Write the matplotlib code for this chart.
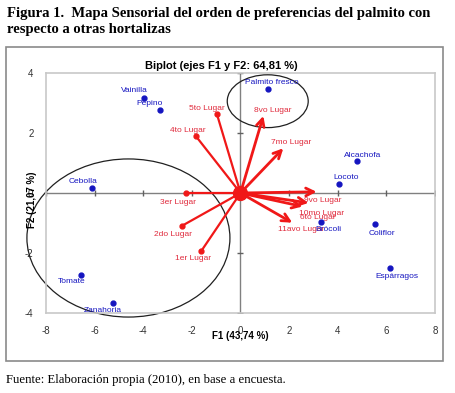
import matplotlib.pyplot as plt
from matplotlib.patches import Ellipse, Rectangle

plt.rcParams['axes.unicode_minus'] = False

# observations (blue points)
obs_names = ['Vainilla', 'Pepino', 'Cebolla', 'Palmito fresco', 'Alcachofa', 'Locoto',
             'Brócoli', 'Coliflor', 'Espárragos', 'Tomate', 'Zanahoria']
obs_x = [-3.97, -3.33, -6.12, 1.14, 4.81, 4.07, 3.31, 5.52, 6.15, -6.54, -5.23]
obs_y = [3.18, 2.78, 0.16, 3.47, 1.06, 0.29, -0.96, -1.02, -2.49, -2.73, -3.66]

# variables (red vectors)
var_names = ['1er Lugar', '2do Lugar', '3er Lugar', '4to Lugar', '5to Lugar', '6to Lugar',
             '7mo Lugar', '8vo Lugar', '9vo Lugar', '10mo Lugar', '11avo Lugar']
var_x = [-1.61, -2.42, -2.24, -1.84, -0.97, 2.55, 1.76, 0.94, 3.13, 2.8, 2.13]
var_y = [-1.93, -1.10, 0.0, 1.90, 2.63, -0.45, 1.49, 2.57, 0.04, -0.33, -0.99]
var_arrow = [False, False, False, False, False, True, True, True, True, True, True]

# grouping ellipses: center x, center y, width, height
ell_cx = [1.12, -4.61]
ell_cy = [3.06, -1.5]
ell_w = [3.33, 8.35]
ell_h = [1.76, 5.27]

ticks_x = [-8, -6, -4, -2, 0, 2, 4, 6, 8]
ticks_y = [-4, -2, 0, 2, 4]

# label offsets in pixels (layout only)
obs_off = [(-10, 7), (-10, 6), (-9, 7), (4, 6), (5, 6), (7, 7),
           (7, -8), (7, -10), (7, -9), (-10, -7), (-11, -8)]
var_off = [(-8, -8), (-9, -8), (-8, -9), (-8, 6), (-10, 6), (15, -11),
           (8, 6), (9, 5), (6, -9), (13, -11), (9, -7)]

blue = '#1515c0'
red = '#f01818'
red_txt = '#e02a3c'
lab_font = ['Liberation Sans Narrow', 'Liberation Sans', 'DejaVu Sans']

fig = plt.figure(figsize=(4.56, 3.93), dpi=100)
ax = fig.add_axes([46 / 456, 80 / 393, 389 / 456, 240 / 393])
ax.set_xlim(-8, 8)
ax.set_ylim(-4, 4)

for s in ax.spines.values():
    s.set_color('#c8c8c8')
    s.set_linewidth(1.2)

ax.set_xticks(ticks_x)
ax.set_yticks(ticks_y)
ax.tick_params(length=0, labelsize=7, colors='#333333', pad=9)
for t in ax.get_xticklabels() + ax.get_yticklabels():
    t.set_family(['Liberation Sans', 'DejaVu Sans'])

# zero lines with small tick marks
ax.axhline(0, color='#808080', lw=1, zorder=1)
ax.axvline(0, color='#808080', lw=1, zorder=1)
ax.plot([v for v in ticks_x if v != 0], [0] * 8, ls='none', marker='|', ms=5,
        color='#606060', mew=1, zorder=1)
ax.plot([0] * 4, [v for v in ticks_y if v != 0], ls='none', marker='_', ms=5,
        color='#606060', mew=1, zorder=1)

# ellipses
for cx, cy, w, h in zip(ell_cx, ell_cy, ell_w, ell_h):
    ax.add_patch(Ellipse((cx, cy), w, h, fill=False, ec='#202020', lw=0.9,
                         clip_on=False, zorder=2))

# vectors
for name, x, y, arr, off in zip(var_names, var_x, var_y, var_arrow, var_off):
    if arr:
        ax.annotate('', xy=(x, y), xytext=(0, 0),
                    arrowprops=dict(arrowstyle='->', color=red, lw=2,
                                    mutation_scale=14, shrinkA=0, shrinkB=0),
                    zorder=3)
    else:
        ax.plot([0, x], [0, y], color=red, lw=1.6, zorder=3)
        ax.plot(x, y, 'o', color=red, ms=3.5, zorder=3)
    ax.annotate(name, (x, y), xytext=(off[0] * 0.72, off[1] * 0.72),
                textcoords='offset points', ha='center', va='center',
                fontsize=6, color=red_txt, family=lab_font, zorder=4)
ax.plot(0, 0, 'o', color=red, ms=10, zorder=3)

# observations
ax.plot(obs_x, obs_y, 'o', color=blue, ms=3.5, ls='none', zorder=4)
for name, x, y, off in zip(obs_names, obs_x, obs_y, obs_off):
    ax.annotate(name, (x, y), xytext=(off[0] * 0.72, off[1] * 0.72),
                textcoords='offset points', ha='center', va='center',
                fontsize=6, color=blue, family=lab_font, zorder=4)

ax.text(0.45, 1.03, 'Biplot (ejes F1 y F2: 64,81 %)', transform=ax.transAxes,
        ha='center', va='center', fontsize=8, fontweight='bold',
        family=['Liberation Sans', 'DejaVu Sans'])
fig.text(240 / 456, 1 - 336 / 393, 'F1 (43,74 %)', ha='center', va='center',
         fontsize=7, fontweight='bold', family=['Liberation Sans', 'DejaVu Sans'])
fig.text(32 / 456, 1 - 200 / 393, 'F2 (21,07 %)', ha='center', va='center',
         rotation=90, fontsize=7, fontweight='bold',
         family=['Liberation Sans', 'DejaVu Sans'])

# outer frame and captions
fig.patches.append(Rectangle((6 / 456, 1 - 361 / 393), 437 / 456, 314 / 393,
                             transform=fig.transFigure, fill=False,
                             ec='#8a8a8a', lw=1.2))
serif = ['Liberation Serif', 'DejaVu Serif']
fig.text(7 / 456, 1 - 14 / 393,
         'Figura 1.  Mapa Sensorial del orden de preferencias del palmito con',
         ha='left', va='center', fontsize=10.5, fontweight='bold', family=serif)
fig.text(7 / 456, 1 - 29 / 393, 'respecto a otras hortalizas',
         ha='left', va='center', fontsize=10.5, fontweight='bold', family=serif)
fig.text(6 / 456, 1 - 380 / 393,
         'Fuente: Elaboración propia (2010), en base a encuesta.',
         ha='left', va='center', fontsize=9.2, family=serif)

fig.savefig('out.png', dpi=100)
